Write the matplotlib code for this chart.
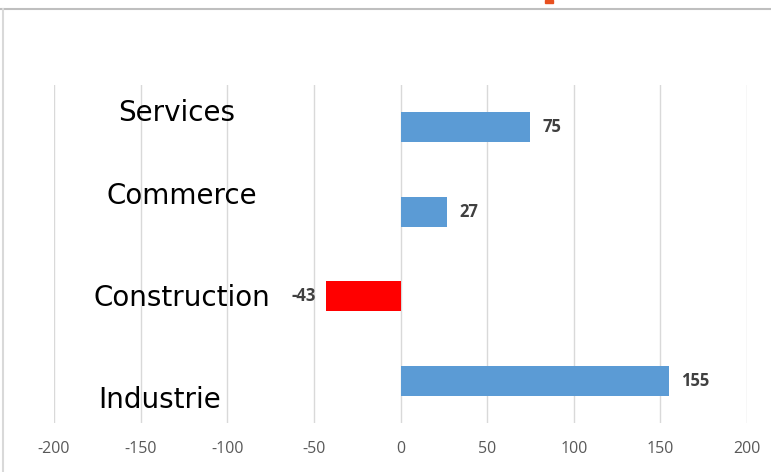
import numpy as np
import matplotlib.pyplot as plt

sectors = ['Services', 'Commerce', 'Construction', 'Industrie']
values = [75, 27, -43, 155]
xticks = [-200, -150, -100, -50, 0, 50, 100, 150, 200]

fig = plt.figure(figsize=(7.71, 4.72), dpi=100)
ax = fig.add_axes([54/771, 49/472, 693/771, 338/472])

ypos = np.arange(len(sectors))
colors = ['#5b9bd5' if v >= 0 else '#ff0000' for v in values]
ax.barh(ypos, values, height=0.35, color=colors, zorder=2)

for y, v in zip(ypos, values):
    if v >= 0:
        ax.text(v + 7, y, str(v), ha='left', va='center', fontsize=12,
                fontweight='bold', color='#404040', family='Open Sans')
    else:
        ax.text(v - 6, y, str(v), ha='right', va='center', fontsize=12,
                fontweight='bold', color='#404040', family='Open Sans')

ax.set_xlim(-200, 200)
ax.set_ylim(3.5, -0.5)
ax.set_xticks(xticks)
ax.set_xticklabels([str(t) for t in xticks], color='#595959', fontsize=11.5,
                   family='Open Sans')
ax.set_yticks([])
ax.tick_params(axis='x', length=0, pad=13)
ax.grid(axis='x', color='#d9d9d9', linewidth=1, zorder=0)
for s in ax.spines.values():
    s.set_visible(False)

# category labels placed as free text boxes
label_pos = [(177, 113), (182, 196), (182, 298), (160, 400)]
for name, (px, py) in zip(sectors, label_pos):
    fig.text(px/771, 1 - py/472, name, ha='center', va='center', fontsize=20,
             fontweight='medium', color='black', family='DejaVu Sans')

# frame of the chart area
fig.add_artist(plt.Line2D([0, 1], [1 - 8.5/472, 1 - 8.5/472], color='#bfbfbf', linewidth=1.5))
fig.add_artist(plt.Line2D([2.5/771, 2.5/771], [0, 1 - 8.5/472], color='#d9d9d9', linewidth=1.5))
# cut-off title fragment
fig.add_artist(plt.Rectangle((545/771, 1 - 3/472), 8/771, 3/472, color='#e8501f'))

fig.savefig('out.png', dpi=100)
